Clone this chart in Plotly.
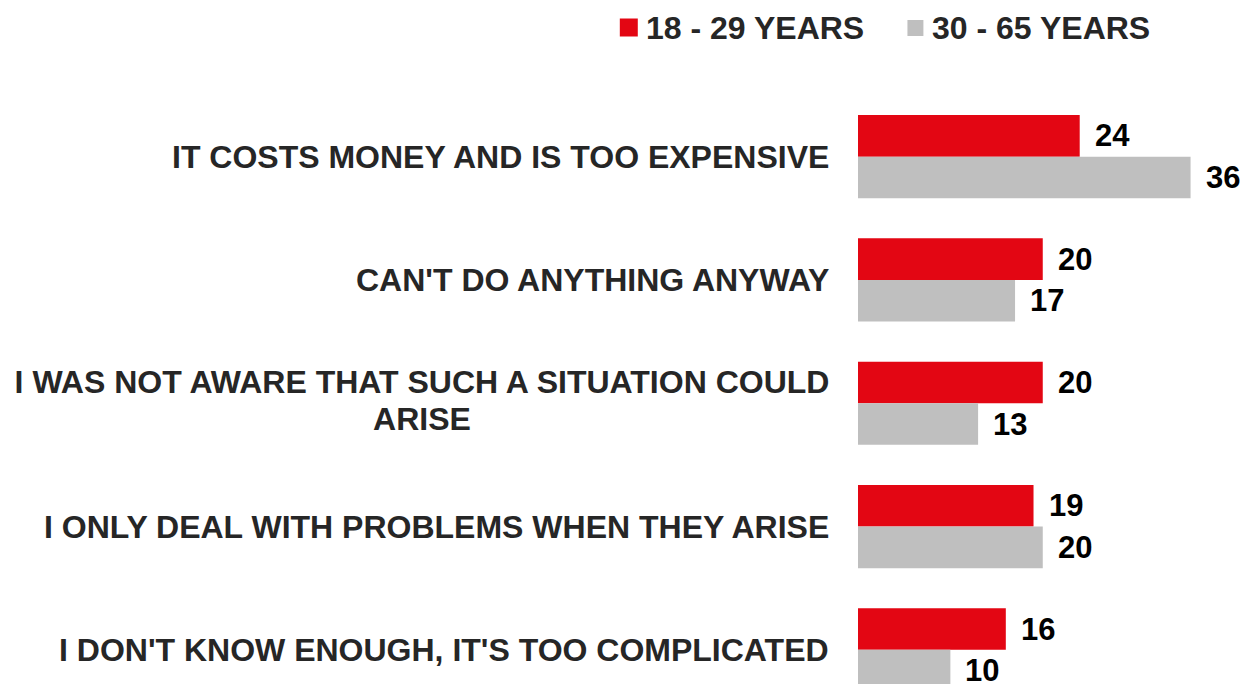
import plotly.graph_objects as go

# Survey reasons and shares (%) per age group
categories = [
    "IT COSTS MONEY AND IS TOO EXPENSIVE",
    "CAN'T DO ANYTHING ANYWAY",
    "I WAS NOT AWARE THAT SUCH A SITUATION COULD<br>ARISE",
    "I ONLY DEAL WITH PROBLEMS WHEN THEY ARISE",
    "I DON'T KNOW ENOUGH, IT'S TOO COMPLICATED",
]
series_names = ["18 - 29 YEARS", "30 - 65 YEARS"]
young_values = [24, 20, 20, 19, 16]
older_values = [36, 17, 13, 20, 10]

colors = ["#E30613", "#BFBFBF"]
font_family = "Liberation Sans, Arial, sans-serif"

W, H = 1245, 684
L, T = 857.5, 95
LINE_GAP = 37      # px between lines of a wrapped category label
WRAP_WIDTH = 814   # px width of a wrapped label block


def px_x(p):
    return (p - L) / (W - L)


def px_y(p):
    return (H - p) / (H - T)


fig = go.Figure()
for name, vals, col in zip(series_names, [young_values, older_values], colors):
    fig.add_trace(go.Bar(
        y=categories, x=vals, name=name, orientation="h",
        marker=dict(color=col, line=dict(width=0)),
        showlegend=False, hoverinfo="x+name",
    ))

annotations = []
shapes = []
label_font = dict(family=font_family, size=32, color="#262626", weight="bold")

# Category labels, right-aligned next to the bars; wrapped lines centred in one block
for cat in categories:
    lines = cat.split("<br>")
    n = len(lines)
    for i, line in enumerate(lines):
        ann = dict(
            x=0, xref="paper", y=cat, yref="y", xanchor="right", yanchor="middle",
            xshift=-27, text=line, showarrow=False, font=label_font,
        )
        if n > 1:
            ann["yshift"] = ((n - 1) / 2 - i) * LINE_GAP + 3
            ann["width"] = WRAP_WIDTH
            ann["align"] = "center"
        annotations.append(ann)

# Value labels next to each bar
for vals, ys in [(young_values, 20.8), (older_values, -20.8)]:
    for cat, v in zip(categories, vals):
        annotations.append(dict(
            x=v, xref="x", y=cat, yref="y", xanchor="left", yanchor="middle",
            xshift=13, yshift=ys, text=str(v), showarrow=False,
            font=dict(family=font_family, size=31, color="#000000", weight="bold"),
        ))

# Legend drawn as squares plus text at the top
legend_square = [(619, 18.5, 18), (907, 20, 16)]  # left, top, size
legend_text_left = [643, 930]
for name, col, (left, top, size), tleft in zip(series_names, colors, legend_square, legend_text_left):
    shapes.append(dict(
        type="rect", xref="paper", yref="paper",
        x0=px_x(left), x1=px_x(left + size), y0=px_y(top + size), y1=px_y(top),
        fillcolor=col, line=dict(width=0),
    ))
    annotations.append(dict(
        x=px_x(tleft), xref="paper", y=px_y(28), yref="paper",
        xanchor="left", yanchor="middle", text=name, showarrow=False,
        font=label_font,
    ))

fig.update_layout(
    width=W, height=H,
    margin=dict(l=L, r=0, t=T, b=0, pad=0),
    paper_bgcolor="white", plot_bgcolor="white",
    barmode="group", bargap=0.325, bargroupgap=0,
    xaxis=dict(range=[0, (W - L) / 9.25], visible=False, showgrid=False, zeroline=False),
    yaxis=dict(range=[(H - T) / 123.3 - 0.5, -0.5], visible=False, showgrid=False,
               zeroline=False, type="category"),
    annotations=annotations, shapes=shapes,
)

fig.write_html("out.html")
